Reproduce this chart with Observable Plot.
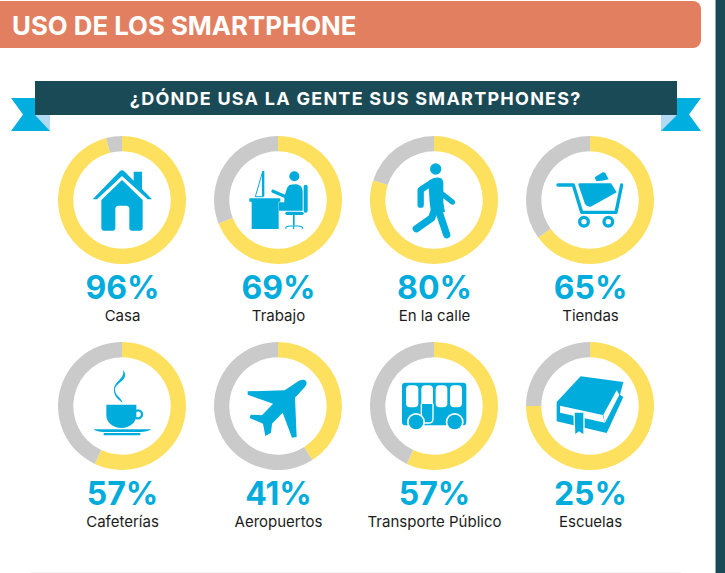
<!DOCTYPE html>
<html lang="es">
<head>
<meta charset="utf-8">
<script src="https://cdn.jsdelivr.net/npm/d3@7"></script>
<script src="https://cdn.jsdelivr.net/npm/@observablehq/plot@0.6"></script>
<style>
html,body{margin:0;padding:0;background:#fff;overflow:hidden}
#page{position:relative;width:725px;height:573px;overflow:hidden;font-family:Inter,sans-serif}
#page>*{position:absolute}
#chart{left:0;top:0}
#title{left:0;top:1px;width:701px;height:47px;background:#e27f60;border-radius:0 8px 8px 0;color:#fff;font-weight:700;font-size:25.800px;line-height:49px;text-indent:12px;letter-spacing:0;white-space:nowrap}
#banner{left:34.5px;top:81px;width:642.5px;height:34px;background:#1b4a57;color:#fff;font-weight:700;font-size:18px;line-height:35px;text-align:center;letter-spacing:1.25px;white-space:nowrap}
#edge{left:715px;top:0;width:10px;height:573px;background:#1b4a57;border-left:1px solid #8fa9b0;box-sizing:border-box}
#foot{left:31px;top:572px;width:650px;height:1px;background:#f1f1f1}
#ribbons{left:0;top:0}
</style>
</head>
<body>
<div id="page">
  <div id="chart"></div>
  <div id="title">USO DE LOS SMARTPHONE</div>
  <svg id="ribbons" width="725" height="140">
    <path d="M11,98H50V131H11L23,114.500Z" fill="#00aedf"/>
    <path d="M35,115H50V131Z" fill="#b3daf2"/>
    <path d="M701,98H661V131H701L689,114.500Z" fill="#00aedf"/>
    <path d="M677,115H661V131Z" fill="#b3daf2"/>
  </svg>
  <div id="banner">¿DÓNDE USA LA GENTE SUS SMARTPHONES?</div>
  <div id="edge"></div>
  <div id="foot"></div>
</div>
<script>
const categories = ["Casa","Trabajo","En la calle","Tiendas","Cafeterías","Aeropuertos","Transporte Público","Escuelas"];
const percentLabels = [96,69,80,65,57,41,57,25];
// share of each ring actually painted yellow (the Escuelas ring is drawn at 75 in the source)
const ringShares = [96,69,80,65,57,41,57,75];
const columns = [0,1,2,3];
const rows = [0,1];
const ringYellow = "#fee05f", ringGrey = "#cacaca", blue = "#00acdc", ink = "#1c1c1c";

const circle = (x,y,r) => `M${x-r},${y}a${r},${r} 0 1,0 ${2*r},0a${r},${r} 0 1,0 ${-2*r},0Z`;
const rrect = (x,y,w,h,r) => `M${x+r},${y}h${w-2*r}q${r},0 ${r},${r}v${h-2*r}q0,${r} ${-r},${r}h${-(w-2*r)}q${-r},0 ${-r},${-r}v${-(h-2*r)}q0,${-r} ${r},${-r}Z`;

// glyphs traced at 3x; o is the glyph point that sits on the ring centre
const icons = [
 {o:[110,118],s:[
  {d:"M22,116L104,31Q110,26 116,31L145,60V33H170V85L200,116H187L110,46L35,116Z"},
  {d:"M48,118L110,58L172,118V203Q172,210 165,210H140Q132,210 132,203V145Q132,135 122,135H100Q90,135 90,145V203Q90,210 82,210H55Q48,210 48,203Z"}]},
 {o:[113,118],s:[
  {d:"M27,113H120V123H115V205H34V123H27Z"},
  {d:"M65,32L72,30V107H65Z"},
  {d:"M66,36L45,108H70",stroke:blue,w:3},
  {d:circle(162,47,15)},
  {d:"M147,73C170,67 187,72 187,92V150H116V125H132V108L140,82Z"},
  {d:"M98,92L136,108",stroke:blue,w:10,cap:"round"},
  {d:rrect(190,72,12,84,6)},
  {d:rrect(135,153,55,10,5)},
  {d:"M158,163h5v32h-5Z"},
  {d:"M136,204Q136,196 150,196H172Q187,196 187,204M160,196V206",stroke:blue,w:3.500}]},
 {o:[221,208],s:[
  {d:circle(226,115,17)},
  {d:"M204,150Q225,137 240,142Q249,146 249,158V215L254,245H212L208,215Z"},
  {d:"M205,162L181,178V222",stroke:blue,w:19,cap:"round"},
  {d:"M243,188L276,214",stroke:blue,w:16,cap:"round"},
  {d:"M235,240L259,312",stroke:blue,w:22,cap:"round"},
  {d:"M222,240L214,262L168,294",stroke:blue,w:22,cap:"round"}]},
 {o:[120,118],s:[
  {d:"M24,73H70L95,155H198L215,73",stroke:blue,w:10,cap:"round"},
  {d:circle(102,183,13),stroke:blue,w:10},
  {d:circle(175,183,13),stroke:blue,w:10},
  {d:"M85,72Q85,68 90,68H183L200,95L122,138Q112,140 105,130Z"},
  {d:"M134,50L158,35Q163,33 166,38L176,56Q150,63 138,60Z"}]},
 {o:[245,212],s:[
  {d:"M248,103C272,135 222,140 224,165C226,182 243,188 247,202C232,192 219,180 221,160C224,135 255,130 248,103Z"},
  {d:"M198,208H288V240C288,262 268,278 243,278C218,278 198,262 198,240Z"},
  {d:circle(293,237,12),stroke:blue,w:7},
  {d:"M159,282H333Q320,290 300,290H190Q170,290 159,282Z"},
  {d:"M190,293H300V300H190Z"}]},
 {o:[713,212],s:[
  {d:"M776,136Q790,130 797,137Q802,146 793,156L764,187L769,305L755,307L727,232L695,265L692,292L675,302L668,265L628,248L631,238L665,240L698,205L622,178L622,168L733,165Z"}]},
 {o:[221,212],s:[
  {d:rrect(125,142,193,128,10)},
  {d:rrect(137,150,37,66,12),fill:"#fff"},
  {d:"M195,150H206Q218,150 218,162V206H183V162Q183,150 195,150Z",fill:"#fff"},
  {d:rrect(226,150,35,66,12),fill:"#fff"},
  {d:rrect(269,150,36,66,12),fill:"#fff"},
  {d:"M183,205V250Q183,263 196,263H205Q218,263 218,250V205",stroke:"#fff",w:4},
  {d:circle(167,260,27),fill:"#fff"},
  {d:circle(283,260,27),fill:"#fff"},
  {d:circle(167,260,22)},
  {d:circle(283,260,22)}]},
 {o:[690,212],s:[
  {d:"M662,123L790,140L780,178L790,185L740,293L590,258V200Z"},
  {d:"M600,211L728,239L735,262L600,232Z",fill:"#fff"},
  {d:"M778,178L735,262L730,238L770,165Z",fill:"#fff"},
  {d:"M640,228H674V302L657,292L642,302Z",fill:"#fff"},
  {d:"M644,232H670V296L657,288L646,296Z"}]}
];

const cards = categories.map((name,i)=>({
  name, label: percentLabels[i]+"%", share: ringShares[i], icon: icons[i],
  col: columns[i%columns.length], row: rows[Math.floor(i/columns.length)]
}));

const R_OUT = 64, R_IN = 48.7;
const turn = d3.scaleLinear([0,100],[0,2*Math.PI]);

const ringMark = Plot.dot(cards,{x:"col",y:"row",r:1,render(index,scales,values){
  const g = d3.create("svg:g");
  const arc = d3.arc().innerRadius(R_IN).outerRadius(R_OUT);
  for(const i of index){
    const t = g.append("g").attr("transform",`translate(${values.x[i]},${values.y[i]})`);
    const a = turn(cards[i].share);
    t.append("path").attr("fill",ringYellow).attr("d",arc({startAngle:0,endAngle:a}));
    t.append("path").attr("fill",ringGrey).attr("d",arc({startAngle:a,endAngle:2*Math.PI}));
  }
  return g.node();
}});

const iconMark = Plot.dot(cards,{x:"col",y:"row",r:1,render(index,scales,values){
  const g = d3.create("svg:g");
  for(const i of index){
    const {o,s} = cards[i].icon;
    const t = g.append("g").attr("transform",`translate(${values.x[i]},${values.y[i]}) scale(${1/3}) translate(${-o[0]},${-o[1]})`);
    for(const p of s){
      t.append("path").attr("d",p.d)
       .attr("fill",p.stroke?"none":(p.fill||blue))
       .attr("stroke",p.stroke||"none")
       .attr("stroke-width",p.w||0)
       .attr("stroke-linecap",p.cap||"butt")
       .attr("stroke-linejoin","round");
    }
  }
  return g.node();
}});

const chart = Plot.plot({
  width:725,height:573,margin:0,
  style:{background:"transparent",fontFamily:"Inter, sans-serif"},
  x:{type:"point",domain:columns,range:[121.7,590],padding:0,axis:null},
  y:{type:"point",domain:rows,range:[199.5,405.6],padding:0,axis:null},
  marks:[
    ringMark,
    iconMark,
    Plot.text(cards,{x:"col",y:"row",text:"label",dy:88,fontSize:32,fontWeight:700,fill:blue}),
    Plot.text(cards,{x:"col",y:"row",text:"name",dy:115.700,fontSize:15,fontWeight:400,fill:ink})
  ]
});
document.getElementById("chart").append(chart);
</script>
</body>
</html>
